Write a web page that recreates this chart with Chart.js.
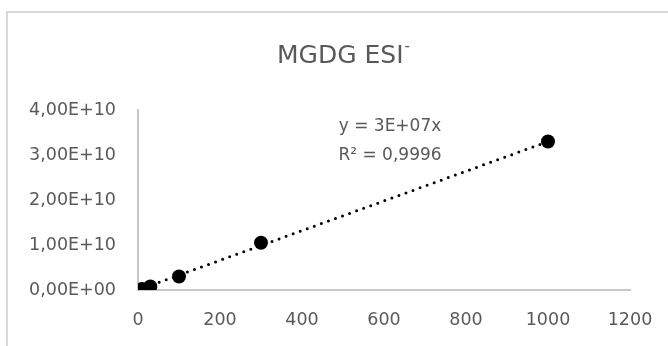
<!DOCTYPE html>
<html>
<head>
<meta charset="utf-8">
<script src="https://cdn.jsdelivr.net/npm/chart.js@4"></script>
<style>
  html, body { margin: 0; padding: 0; background: #fff; }
  #wrap { position: relative; width: 668px; height: 346px; overflow: hidden; }
  #frame { position: absolute; left: 6px; top: 11px; width: 700px; height: 400px; border: 2px solid #d9d9d9; box-sizing: border-box; }
  #chart { position: absolute; left: 0; top: 0; }
</style>
</head>
<body>
<div id="wrap">
  <div id="frame"></div>
  <canvas id="chart" width="668" height="346"></canvas>
</div>
<script>
// calibration points
const concentrations = [10, 30, 100, 300, 1000];
const peakAreas = [2.0e8, 8.0e8, 3.0e9, 1.05e10, 3.30e10];

// linear trendline (through origin) as drawn
const trendX = [0, 1000];
const trendY = [0, 3.30e10];

const titleMain = "MGDG ESI";
const titleSup = "-";
const equationLines = ["y = 3E+07x", "R\u00B2 = 0,9996"];

const textColor = "#595959";
const fontFamily = "'DejaVu Sans', 'Open Sans', sans-serif";

function sci(v) {
  if (v === 0) return "0,00E+00";
  const e = Math.floor(Math.log10(Math.abs(v)));
  const m = v / Math.pow(10, e);
  return m.toFixed(2).replace(".", ",") + "E" + (e < 0 ? "-" : "+") + String(Math.abs(e)).padStart(2, "0");
}

const textPlugin = {
  id: "excelText",
  afterDraw(chart) {
    const ctx = chart.ctx;
    ctx.save();
    ctx.fillStyle = textColor;
    ctx.textBaseline = "alphabetic";
    // title with a small raised minus
    ctx.font = "25px " + fontFamily;
    const wMain = ctx.measureText(titleMain).width;
    ctx.font = "15px " + fontFamily;
    const wSup = ctx.measureText(titleSup).width;
    const x0 = 343 - (wMain + wSup) / 2;
    ctx.textAlign = "left";
    ctx.font = "25px " + fontFamily;
    ctx.fillText(titleMain, x0, 63);
    ctx.font = "15px " + fontFamily;
    ctx.fillText(titleSup, x0 + wMain + 1, 51);
    // trendline label
    ctx.textAlign = "center";
    ctx.textBaseline = "middle";
    ctx.font = "17px " + fontFamily;
    ctx.fillText(equationLines[0], 390, 127);
    ctx.fillText(equationLines[1], 390, 156);
    ctx.restore();
  }
};

window.addEventListener("DOMContentLoaded", () => {
  const ctx = document.getElementById("chart").getContext("2d");
  new Chart(ctx, {
    type: "scatter",
    data: {
      datasets: [
        {
          label: "data",
          data: concentrations.map((x, i) => ({ x, y: peakAreas[i] })),
          backgroundColor: "#000",
          borderColor: "#000",
          borderWidth: 0,
          pointRadius: 7,
          pointHoverRadius: 7,
          order: 0
        },
        {
          label: "trend",
          type: "line",
          data: trendX.map((x, i) => ({ x, y: trendY[i] })),
          borderColor: "#000",
          borderWidth: 3,
          borderDash: [0, 7.5],
          borderCapStyle: "round",
          pointRadius: 0,
          fill: false,
          order: 1
        }
      ]
    },
    options: {
      responsive: false,
      animation: false,
      devicePixelRatio: 1,
      layout: { padding: { top: 110, right: 38, left: 0, bottom: 0 } },
      plugins: { legend: { display: false }, tooltip: { enabled: false } },
      scales: {
        x: {
          type: "linear",
          min: 0,
          max: 1200,
          afterFit: s => { s.height = 56; s.paddingLeft = 0; s.paddingRight = 0; },
          grid: { display: false, drawTicks: false },
          border: { display: true, color: "#c8c8c8", width: 2 },
          ticks: {
            stepSize: 200,
            padding: 20,
            color: textColor,
            font: { family: fontFamily, size: 17.5 },
            maxRotation: 0,
            callback: v => String(v)
          }
        },
        y: {
          type: "linear",
          min: 0,
          max: 4e10,
          afterFit: s => { s.width = 138; s.paddingTop = 0; s.paddingBottom = 0; },
          grid: { display: false, drawTicks: false },
          border: { display: true, color: "#c8c8c8", width: 2 },
          ticks: {
            stepSize: 1e10,
            padding: 22,
            color: textColor,
            font: { family: fontFamily, size: 17.5 },
            callback: v => sci(v)
          }
        }
      }
    },
    plugins: [textPlugin]
  });
});
</script>
</body>
</html>
